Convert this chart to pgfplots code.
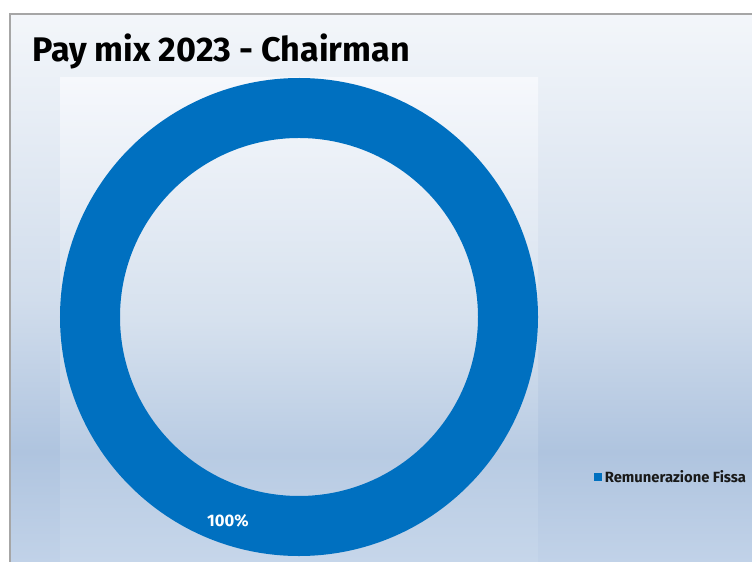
\documentclass[border=0pt]{standalone}
\usepackage{pgfplots}
\pgfplotsset{compat=1.18}
\usepackage{pgfplotstable}
\usepackage{fontspec}
\setmainfont{Fira Sans}

\definecolor{ringblue}{HTML}{0070C0}
\definecolor{frameline}{HTML}{A6A6A6}
\definecolor{bgbot}{HTML}{C1D2E8}
\definecolor{bgdark}{HTML}{AFC4DF}
\definecolor{bgmid}{HTML}{D1DDEC}
\definecolor{bgtop}{HTML}{F3F6FA}
\definecolor{pabot}{HTML}{C6D6EA}
\definecolor{padark}{HTML}{B8CBE3}
\definecolor{pamid}{HTML}{D6E1EE}
\definecolor{patop}{HTML}{F6F8FC}

% chart background: light at top, darkest near the legend, a bit lighter at the bottom
\pgfdeclareverticalshading{chartbg}{100bp}{%
  color(0bp)=(bgbot); color(25bp)=(bgbot); color(35bp)=(bgdark);
  color(49bp)=(bgmid); color(75bp)=(bgtop); color(100bp)=(bgtop)}
\pgfdeclareverticalshading{plotbg}{100bp}{%
  color(0bp)=(pabot); color(25bp)=(pabot); color(36bp)=(padark);
  color(50bp)=(pamid); color(75bp)=(patop); color(100bp)=(patop)}

\pgfplotstableread{
label value
{Remunerazione Fissa} 100
}\paymix

\begin{document}
\begin{tikzpicture}[x=0.75pt, y=0.75pt]
\useasboundingbox (0,0) rectangle (752,561);
\fill[white] (0,0) rectangle (752,561);
\shade[shading=chartbg] (10,0) rectangle (760,547);
\draw[frameline, line width=0.9pt] (10,-5) -- (10,547) -- (760,547);
\shade[shading=plotbg] (60,0) rectangle (538,483);

\node[anchor=base west, inner sep=0pt, font=\fontsize{25.6}{28}\selectfont\bfseries]
  at (32,499.5) {Pay mix 2023 - Chairman};

\pgfplotstablegetelem{0}{value}\of\paymix
\let\share\pgfplotsretval
\pgfmathsetmacro\ang{3.6*\share}

\begin{axis}[
    at={(224.25pt,183pt)}, anchor=center,
    scale only axis,
    width=358.5pt, height=358.5pt,
    xmin=-1, xmax=1, ymin=-1, ymax=1,
    hide axis,
    clip=false,
    legend style={
        at={(1.117,0.165)}, anchor=west,
        draw=none, fill=none, inner sep=0pt,
        font=\fontsize{11.1}{13}\selectfont\bfseries,
        text=black!90,
    },
    legend image code/.code={\fill[#1] (0pt,-3pt) rectangle (6pt,3pt);},
]
\fill[ringblue] (axis cs:0,1)
    arc[start angle=90, end angle={90-\ang}, radius=179.25pt]
    -- (axis cs:{0.749*cos(90-\ang)},{0.749*sin(90-\ang)})
    arc[start angle={90-\ang}, end angle=90, radius=134.25pt]
    -- cycle;
\node[white, font=\fontsize{12.5}{14}\selectfont\bfseries]
    at (axis cs:-0.297,-0.854) {\share\%};
\addlegendimage{fill=ringblue, draw=none}
\addlegendentry{Remunerazione Fissa}
\end{axis}
\end{tikzpicture}
\end{document}
